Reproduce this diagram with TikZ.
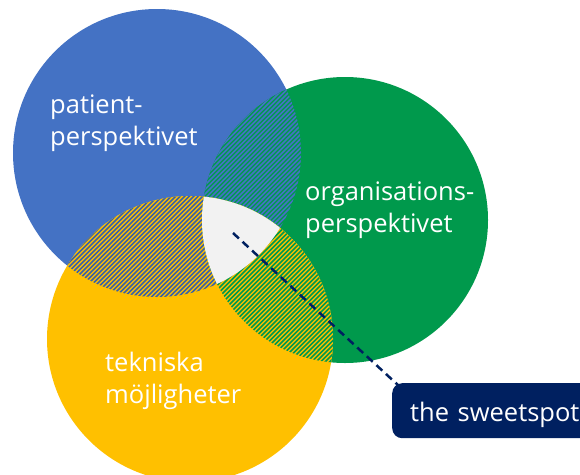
\documentclass[tikz,border=0pt]{standalone}
\usepackage{fontspec}
\setmainfont{Open Sans}
\usetikzlibrary{calc}
\definecolor{cblue}{HTML}{4472C4}
\definecolor{cgreen}{HTML}{00994C}
\definecolor{cyellow}{HTML}{FFC000}
\definecolor{cnavy}{HTML}{002060}
\definecolor{cgray}{HTML}{F2F2F2}
\begin{document}
\begin{tikzpicture}[x=1pt,y=-1pt,
  lbl/.style={text=white, font=\fontsize{25.5}{32}\selectfont, align=left, inner sep=0pt, anchor=base west},
  stripe/.style={line width=1.5pt},
  tagbox/.style={fill=cnavy, rounded corners=10pt, text=white, font=\fontsize{25.5}{32}\selectfont,
     minimum width=230pt, minimum height=55pt, text width=194pt, align=left, inner xsep=18pt,
     text height=21pt, text depth=0pt, anchor=north west},
  sweetline/.style={cnavy, line width=2.5pt, dash pattern=on 8pt off 5pt}]
\useasboundingbox (0,0) rectangle (580,474);
\clip (0,0) rectangle (580,474);
\fill[white] (0,0) rectangle (580,474);
\coordinate (B) at (157,153);
\coordinate (G) at (345,220);
\coordinate (Y) at (190,339);
\fill[cblue] (B) circle[radius=144pt];
\fill[cgreen] (G) circle[radius=143pt];
\fill[cyellow] (Y) circle[radius=143pt];
% blue-green lens
\begin{scope}
\clip (B) circle[radius=144pt];
\clip (G) circle[radius=143pt];
\fill[cgreen] (0,0) rectangle (580,474);
\foreach \a in {-480,-475.5,...,600} \draw[stripe,cblue] (\a,474) -- ++(474,-474);
\end{scope}
% blue-yellow lens
\begin{scope}
\clip (B) circle[radius=144pt];
\clip (Y) circle[radius=143pt];
\fill[cyellow] (0,0) rectangle (580,474);
\foreach \a in {-480,-475.5,...,600} \draw[stripe,cblue!85!black] (\a,474) -- ++(474,-474);
\end{scope}
% green-yellow lens
\begin{scope}
\clip (G) circle[radius=143pt];
\clip (Y) circle[radius=143pt];
\fill[cyellow] (0,0) rectangle (580,474);
\foreach \a in {-480,-475.5,...,600} \draw[stripe,cgreen] (\a,474) -- ++(474,-474);
\end{scope}
% triple intersection
\begin{scope}
\clip (B) circle[radius=144pt];
\clip (G) circle[radius=143pt];
\clip (Y) circle[radius=143pt];
\fill[cgray] (0,0) rectangle (580,474);
\end{scope}
\node[lbl] (pat) at (50,145) {patient-\\perspektivet};
\node[lbl] (org) at (305,232) {organisations-\\perspektivet};
\node[lbl] (tek) at (105,403) {tekniska\\möjligheter};
\coordinate (sp) at (233,233);
\node[tagbox] (box) at (392,383) {the sweetspot};
\draw[sweetline] (sp) -- ($(box.north west)+(7,3)$);
\end{tikzpicture}
\end{document}
